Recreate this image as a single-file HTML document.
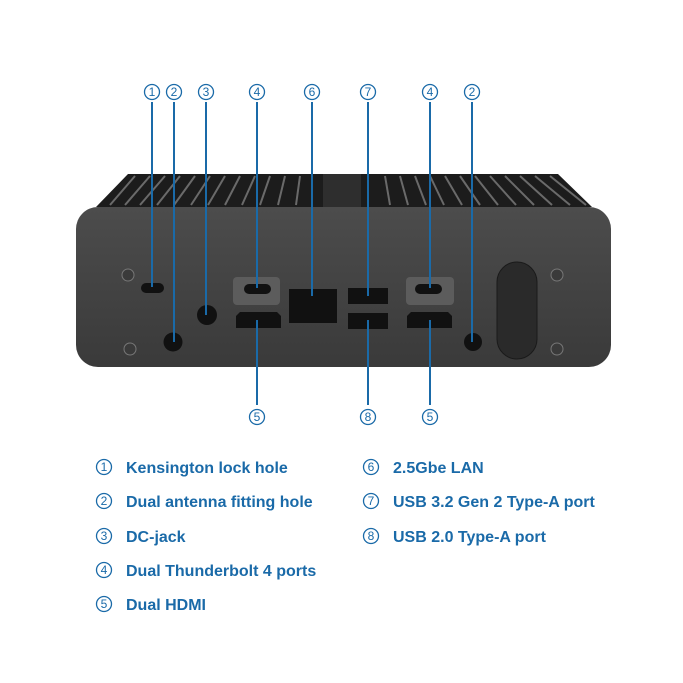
<!DOCTYPE html>
<html><head><meta charset="utf-8"><style>
body{margin:0;background:#fff}
svg{display:block}
.n{font-family:"Liberation Sans","DejaVu Sans",sans-serif;font-size:12px;fill:#1a6aa8;text-anchor:middle}
.t{font-family:"Liberation Sans","DejaVu Sans",sans-serif;font-size:16px;font-weight:bold;fill:#1a6aa8}
</style></head><body>
<svg width="683" height="683" viewBox="0 0 683 683">
<defs>
<linearGradient id="bd" x1="0" y1="0" x2="0" y2="1"><stop offset="0" stop-color="#4c4c4c"/><stop offset="1" stop-color="#3a3a3a"/></linearGradient>
</defs>
<path d="M128 174 L558 174 L592 207 L96 207 Z" fill="#1c1c1c"/>
<g stroke="#6a6a6a" stroke-width="2">
<line x1="135" y1="176" x2="110" y2="205"/><line x1="150" y1="176" x2="125" y2="205"/><line x1="165" y1="176" x2="140" y2="205"/><line x1="180" y1="176" x2="157" y2="205"/><line x1="195" y1="176" x2="174" y2="205"/><line x1="210" y1="176" x2="191" y2="205"/><line x1="225" y1="176" x2="208" y2="205"/><line x1="240" y1="176" x2="225" y2="205"/><line x1="255" y1="176" x2="242" y2="205"/><line x1="270" y1="176" x2="260" y2="205"/><line x1="285" y1="176" x2="278" y2="205"/><line x1="300" y1="176" x2="296" y2="205"/>
<line x1="385" y1="176" x2="390" y2="205"/><line x1="400" y1="176" x2="408" y2="205"/><line x1="415" y1="176" x2="426" y2="205"/><line x1="430" y1="176" x2="444" y2="205"/><line x1="445" y1="176" x2="462" y2="205"/><line x1="460" y1="176" x2="480" y2="205"/><line x1="475" y1="176" x2="498" y2="205"/><line x1="490" y1="176" x2="516" y2="205"/><line x1="505" y1="176" x2="534" y2="205"/><line x1="520" y1="176" x2="552" y2="205"/><line x1="535" y1="176" x2="570" y2="205"/><line x1="550" y1="176" x2="586" y2="205"/>
</g>
<rect x="323" y="174" width="38" height="33" fill="#2e2e2e"/>
<rect x="76" y="207" width="535" height="160" rx="22" fill="url(#bd)"/>
<g fill="#3a3a3a" stroke="#777" stroke-width="1">
<circle cx="128" cy="275" r="6"/><circle cx="130" cy="349" r="6"/><circle cx="557" cy="275" r="6"/><circle cx="557" cy="349" r="6"/>
</g>
<rect x="141" y="283" width="23" height="10" rx="5" fill="#111"/>
<circle cx="173" cy="342" r="9.5" fill="#111"/>
<circle cx="207" cy="315" r="10" fill="#111"/>
<rect x="233" y="277" width="47" height="28" rx="4" fill="#5c5c5c"/>
<rect x="244" y="284" width="27" height="10" rx="5" fill="#111"/>
<path d="M240 312 H277 L281 316 V328 H236 V316 Z" fill="#111"/>
<rect x="289" y="289" width="48" height="34" fill="#111"/>
<rect x="348" y="288" width="40" height="16" fill="#111"/>
<rect x="348" y="313" width="40" height="16" fill="#111"/>
<rect x="406" y="277" width="48" height="28" rx="4" fill="#5c5c5c"/>
<rect x="415" y="284" width="27" height="10" rx="5" fill="#111"/>
<path d="M411 312 H448 L452 316 V328 H407 V316 Z" fill="#111"/>
<circle cx="473" cy="342" r="9" fill="#111"/>
<rect x="497" y="262" width="40" height="97" rx="20" fill="#2a2a2a" stroke="#1a1a1a"/>
<g stroke="#1a6aa8" stroke-width="2">
<line x1="152" y1="102" x2="152" y2="287"/>
<line x1="174" y1="102" x2="174" y2="342"/>
<line x1="206" y1="102" x2="206" y2="315"/>
<line x1="257" y1="102" x2="257" y2="288"/>
<line x1="312" y1="102" x2="312" y2="296"/>
<line x1="368" y1="102" x2="368" y2="296"/>
<line x1="430" y1="102" x2="430" y2="288"/>
<line x1="472" y1="102" x2="472" y2="342"/>
<line x1="257" y1="320" x2="257" y2="405"/>
<line x1="368" y1="320" x2="368" y2="405"/>
<line x1="430" y1="320" x2="430" y2="405"/>
</g>
<g fill="#fff" stroke="#1a6aa8" stroke-width="1.3">
<circle cx="152" cy="92" r="7.5"/><circle cx="174" cy="92" r="7.5"/><circle cx="206" cy="92" r="7.5"/><circle cx="257" cy="92" r="7.5"/><circle cx="312" cy="92" r="7.5"/><circle cx="368" cy="92" r="7.5"/><circle cx="430" cy="92" r="7.5"/><circle cx="472" cy="92" r="7.5"/>
<circle cx="257" cy="417" r="7.5"/><circle cx="368" cy="417" r="7.5"/><circle cx="430" cy="417" r="7.5"/>
<circle cx="104" cy="467" r="7.5"/><circle cx="104" cy="501" r="7.5"/><circle cx="104" cy="536" r="7.5"/><circle cx="104" cy="570" r="7.5"/><circle cx="104" cy="604" r="7.5"/>
<circle cx="371" cy="467" r="7.5"/><circle cx="371" cy="501" r="7.5"/><circle cx="371" cy="536" r="7.5"/>
</g>
<g class="n">
<text x="152" y="96">1</text><text x="174" y="96">2</text><text x="206" y="96">3</text><text x="257" y="96">4</text><text x="312" y="96">6</text><text x="368" y="96">7</text><text x="430" y="96">4</text><text x="472" y="96">2</text>
<text x="257" y="421">5</text><text x="368" y="421">8</text><text x="430" y="421">5</text>
<text x="104" y="471">1</text><text x="104" y="505">2</text><text x="104" y="540">3</text><text x="104" y="574">4</text><text x="104" y="608">5</text>
<text x="371" y="471">6</text><text x="371" y="505">7</text><text x="371" y="540">8</text>
</g>
<g class="t">
<text x="126" y="473">Kensington lock hole</text>
<text x="126" y="507">Dual antenna fitting hole</text>
<text x="126" y="542">DC-jack</text>
<text x="126" y="576">Dual Thunderbolt 4 ports</text>
<text x="126" y="610">Dual HDMI</text>
<text x="393" y="473">2.5Gbe LAN</text>
<text x="393" y="507">USB 3.2 Gen 2 Type-A port</text>
<text x="393" y="542">USB 2.0 Type-A port</text>
</g>
</svg>
</body></html>
